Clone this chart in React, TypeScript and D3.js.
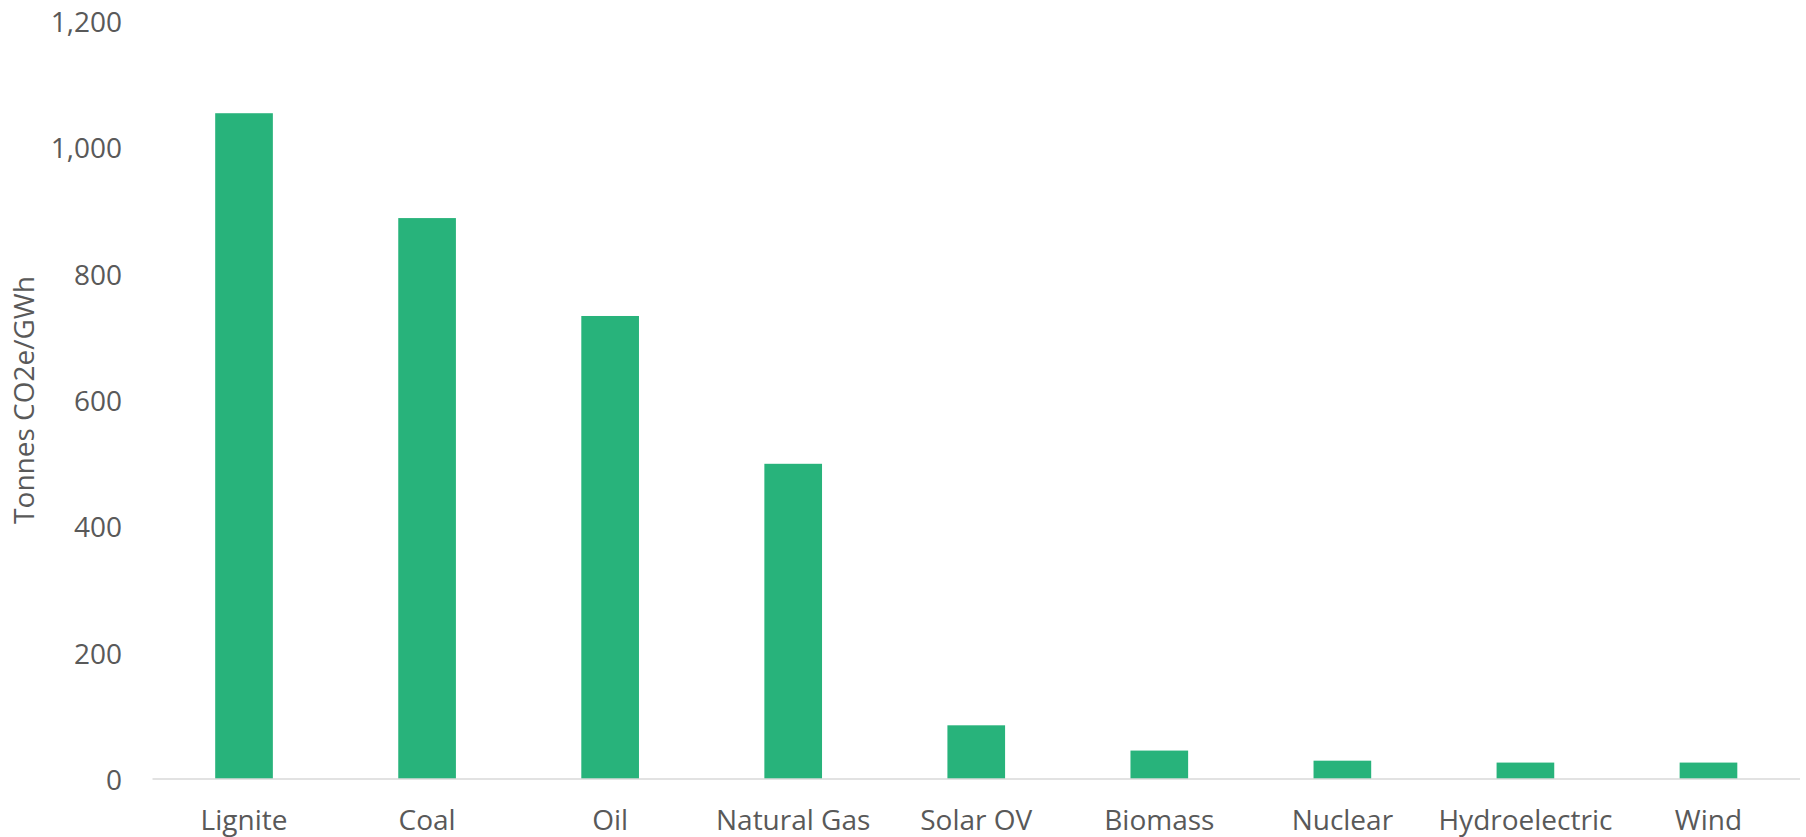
import React from "react";
import * as d3 from "d3";

const categories = [
  "Lignite",
  "Coal",
  "Oil",
  "Natural Gas",
  "Solar OV",
  "Biomass",
  "Nuclear",
  "Hydroelectric",
  "Wind",
];
const emissions = [1054, 888, 733, 499, 85, 45, 29, 26, 26];
const yTicks = [0, 200, 400, 600, 800, 1000, 1200];
const yLabel = "Tonnes CO2e/GWh";

const WIDTH = 1806;
const HEIGHT = 837;
const plot = { left: 152.5, right: 1800, top: 21, bottom: 779 };
const FONT = "'Open Sans', 'Noto Sans', sans-serif";
const TEXT = "#595959";
const BAR = "#28b37b";
const FS = 28;

export default function App() {
  const x = d3
    .scaleBand<string>()
    .domain(categories)
    .range([plot.left, plot.right])
    .paddingInner(0.685)
    .paddingOuter(0.3425);
  const y = d3.scaleLinear().domain([0, 1200]).range([plot.bottom, plot.top]);
  const fmt = d3.format(",");

  return (
    <svg
      width={WIDTH}
      height={HEIGHT}
      style={{ position: "absolute", left: 0, top: 0, background: "#fff" }}
      fontFamily={FONT}
    >
      <rect x={0} y={0} width={WIDTH} height={HEIGHT} fill="#fff" />
      {categories.map((c, i) => (
        <rect
          key={c}
          x={x(c)}
          y={y(emissions[i])}
          width={x.bandwidth()}
          height={y(0) - y(emissions[i])}
          fill={BAR}
        />
      ))}
      <line
        x1={plot.left}
        x2={plot.right}
        y1={y(0)}
        y2={y(0)}
        stroke="#d9d9d9"
        strokeWidth={1.5}
      />
      {yTicks.map((t) => (
        <text
          key={t}
          x={122}
          y={y(t)}
          textAnchor="end"
          dominantBaseline="central"
          fontSize={FS}
          fill={TEXT}
        >
          {fmt(t)}
        </text>
      ))}
      {categories.map((c) => (
        <text
          key={c}
          x={(x(c) as number) + x.bandwidth() / 2}
          y={830}
          textAnchor="middle"
          fontSize={FS}
          fill={TEXT}
        >
          {c}
        </text>
      ))}
      <text
        transform={`translate(23, ${(plot.top + plot.bottom) / 2}) rotate(-90)`}
        textAnchor="middle"
        dominantBaseline="central"
        fontSize={FS}
        fill={TEXT}
      >
        {yLabel}
      </text>
    </svg>
  );
}
